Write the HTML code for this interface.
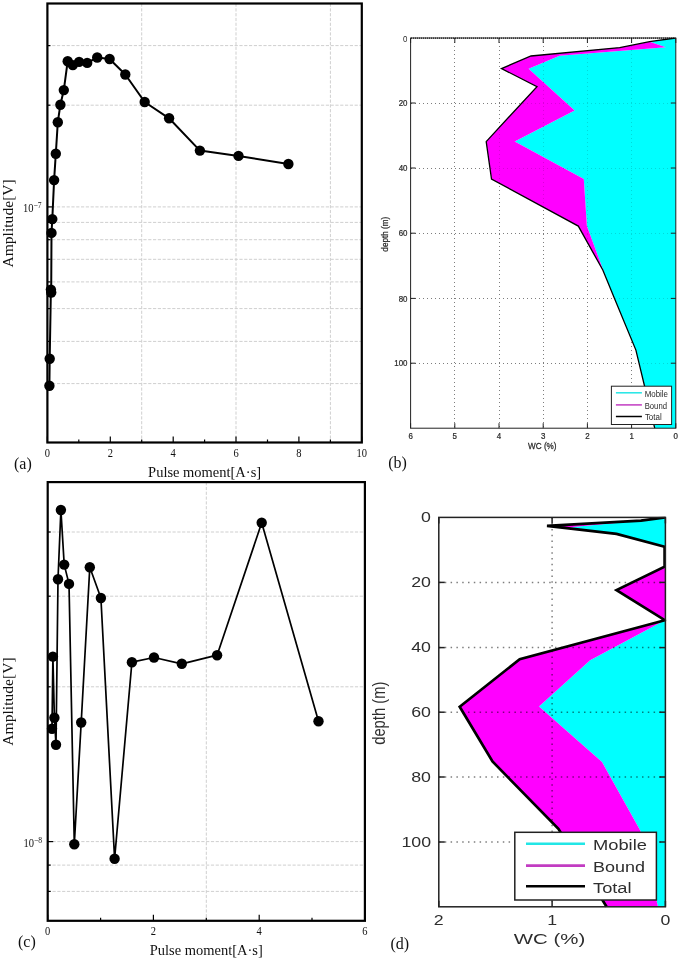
<!DOCTYPE html>
<html lang="en">
<head>
<meta charset="utf-8">
<title>Figure: amplitude vs pulse moment and water content profiles</title>
<style>
html,body{margin:0;padding:0;background:#fff;}
svg{display:block;will-change:transform;}
</style>
</head>
<body>
<svg width="685" height="960" viewBox="0 0 685 960">
<rect width="685" height="960" fill="#fff"/>
<g id="panel-a">
<g stroke="#cfcfcf" stroke-width="1" stroke-dasharray="3.2 1.6" fill="none">
<line x1="47.4" y1="45.6" x2="361.8" y2="45.6"/>
<line x1="47.4" y1="105.2" x2="361.8" y2="105.2"/>
<line x1="47.4" y1="206.9" x2="361.8" y2="206.9"/>
<line x1="47.4" y1="222.4" x2="361.8" y2="222.4"/>
<line x1="47.4" y1="239.7" x2="361.8" y2="239.7"/>
<line x1="47.4" y1="259.3" x2="361.8" y2="259.3"/>
<line x1="47.4" y1="281.9" x2="361.8" y2="281.9"/>
<line x1="47.4" y1="308.6" x2="361.8" y2="308.6"/>
<line x1="47.4" y1="341.4" x2="361.8" y2="341.4"/>
<line x1="47.4" y1="383.6" x2="361.8" y2="383.6"/>
<line x1="141.7" y1="3.5" x2="141.7" y2="442.5"/>
<line x1="236.0" y1="3.5" x2="236.0" y2="442.5"/>
<line x1="330.4" y1="3.5" x2="330.4" y2="442.5"/>
</g>
<g stroke="#000" stroke-width="1.2" fill="none">
<line x1="47.4" y1="442.5" x2="47.4" y2="436.5"/>
<line x1="78.8" y1="442.5" x2="78.8" y2="439.5"/>
<line x1="110.3" y1="442.5" x2="110.3" y2="436.5"/>
<line x1="141.7" y1="442.5" x2="141.7" y2="439.5"/>
<line x1="173.2" y1="442.5" x2="173.2" y2="436.5"/>
<line x1="204.6" y1="442.5" x2="204.6" y2="439.5"/>
<line x1="236.0" y1="442.5" x2="236.0" y2="436.5"/>
<line x1="267.5" y1="442.5" x2="267.5" y2="439.5"/>
<line x1="298.9" y1="442.5" x2="298.9" y2="436.5"/>
<line x1="330.4" y1="442.5" x2="330.4" y2="439.5"/>
<line x1="361.8" y1="442.5" x2="361.8" y2="436.5"/>
<line x1="47.4" y1="45.6" x2="50.4" y2="45.6"/>
<line x1="47.4" y1="105.2" x2="50.4" y2="105.2"/>
<line x1="47.4" y1="206.9" x2="52.9" y2="206.9"/>
<line x1="47.4" y1="222.4" x2="50.4" y2="222.4"/>
<line x1="47.4" y1="239.7" x2="50.4" y2="239.7"/>
<line x1="47.4" y1="259.3" x2="50.4" y2="259.3"/>
<line x1="47.4" y1="281.9" x2="50.4" y2="281.9"/>
<line x1="47.4" y1="308.6" x2="50.4" y2="308.6"/>
<line x1="47.4" y1="341.4" x2="50.4" y2="341.4"/>
<line x1="47.4" y1="383.6" x2="50.4" y2="383.6"/>
</g>
<polyline points="49.4,385.7 49.7,358.7 50.9,289.6 51.2,292.5 51.5,232.9 52.3,219.1 54.1,180.1 55.8,153.8 57.8,122.2 60.4,104.7 63.8,90.1 67.7,61.2 72.8,65.1 79.1,61.9 87.2,62.9 97.2,57.5 109.6,59.0 125.3,74.5 144.7,102.0 169.1,118.3 199.9,150.6 238.5,155.9 288.4,164.0" fill="none" stroke="#000" stroke-width="2.0" stroke-linejoin="round"/>
<g fill="#000">
<circle cx="49.4" cy="385.7" r="5.2"/>
<circle cx="49.7" cy="358.7" r="5.2"/>
<circle cx="50.9" cy="289.6" r="5.2"/>
<circle cx="51.2" cy="292.5" r="5.2"/>
<circle cx="51.5" cy="232.9" r="5.2"/>
<circle cx="52.3" cy="219.1" r="5.2"/>
<circle cx="54.1" cy="180.1" r="5.2"/>
<circle cx="55.8" cy="153.8" r="5.2"/>
<circle cx="57.8" cy="122.2" r="5.2"/>
<circle cx="60.4" cy="104.7" r="5.2"/>
<circle cx="63.8" cy="90.1" r="5.2"/>
<circle cx="67.7" cy="61.2" r="5.2"/>
<circle cx="72.8" cy="65.1" r="5.2"/>
<circle cx="79.1" cy="61.9" r="5.2"/>
<circle cx="87.2" cy="62.9" r="5.2"/>
<circle cx="97.2" cy="57.5" r="5.2"/>
<circle cx="109.6" cy="59.0" r="5.2"/>
<circle cx="125.3" cy="74.5" r="5.2"/>
<circle cx="144.7" cy="102.0" r="5.2"/>
<circle cx="169.1" cy="118.3" r="5.2"/>
<circle cx="199.9" cy="150.6" r="5.2"/>
<circle cx="238.5" cy="155.9" r="5.2"/>
<circle cx="288.4" cy="164.0" r="5.2"/>
</g>
<rect x="47.4" y="3.5" width="314.4" height="439.0" fill="none" stroke="#000" stroke-width="2.2"/>
<g font-family='"Liberation Serif", "DejaVu Serif", serif' font-size="12.8" fill="#111" text-anchor="middle">
<text transform="translate(47.4,456.6) scale(0.82,1)">0</text>
<text transform="translate(110.3,456.6) scale(0.82,1)">2</text>
<text transform="translate(173.2,456.6) scale(0.82,1)">4</text>
<text transform="translate(236.0,456.6) scale(0.82,1)">6</text>
<text transform="translate(298.9,456.6) scale(0.82,1)">8</text>
<text transform="translate(361.8,456.6) scale(0.82,1)">10</text>
</g>
<text transform="translate(23.0,212.0) scale(0.85,1)" font-family='"Liberation Serif", "DejaVu Serif", serif' font-size="12.4" fill="#111">10<tspan font-size="9" dy="-3.9">−7</tspan></text>
<text x="204.6" y="476.6" font-family='"Liberation Serif", "DejaVu Serif", serif' font-size="15.4" fill="#111" text-anchor="middle" textLength="113" lengthAdjust="spacingAndGlyphs">Pulse moment[A·s]</text>
<text transform="translate(12.9,223.4) rotate(-90)" font-family='"Liberation Serif", "DejaVu Serif", serif' font-size="15.6" fill="#111" text-anchor="middle">Amplitude[V]</text>
<text x="14" y="468.5" font-family='"Liberation Serif", "DejaVu Serif", serif' font-size="16" fill="#111">(a)</text>
</g>
<g id="panel-c">
<g stroke="#cfcfcf" stroke-width="1" stroke-dasharray="3.2 1.6" fill="none">
<line x1="47.7" y1="532.0" x2="364.9" y2="532.0"/>
<line x1="47.7" y1="596.2" x2="364.9" y2="596.2"/>
<line x1="47.7" y1="686.8" x2="364.9" y2="686.8"/>
<line x1="47.7" y1="841.6" x2="364.9" y2="841.6"/>
<line x1="47.7" y1="865.1" x2="364.9" y2="865.1"/>
<line x1="47.7" y1="891.4" x2="364.9" y2="891.4"/>
<line x1="206.3" y1="482.1" x2="206.3" y2="920.8"/>
</g>
<g stroke="#000" stroke-width="1.2" fill="none">
<line x1="47.7" y1="920.8" x2="47.7" y2="914.8"/>
<line x1="100.6" y1="920.8" x2="100.6" y2="917.8"/>
<line x1="153.4" y1="920.8" x2="153.4" y2="914.8"/>
<line x1="206.3" y1="920.8" x2="206.3" y2="917.8"/>
<line x1="259.2" y1="920.8" x2="259.2" y2="914.8"/>
<line x1="312.0" y1="920.8" x2="312.0" y2="917.8"/>
<line x1="364.9" y1="920.8" x2="364.9" y2="914.8"/>
<line x1="47.7" y1="532.0" x2="50.7" y2="532.0"/>
<line x1="47.7" y1="596.2" x2="50.7" y2="596.2"/>
<line x1="47.7" y1="686.8" x2="50.7" y2="686.8"/>
<line x1="47.7" y1="841.6" x2="53.2" y2="841.6"/>
<line x1="47.7" y1="865.1" x2="50.7" y2="865.1"/>
<line x1="47.7" y1="891.4" x2="50.7" y2="891.4"/>
</g>
<polyline points="52.0,728.7 52.9,656.6 54.4,717.7 56.0,744.7 58.0,579.2 60.9,510.0 64.2,564.6 69.0,583.9 74.3,844.2 81.2,722.5 89.8,567.3 100.9,598.0 114.6,858.8 131.9,662.2 154.0,657.5 181.8,663.8 217.1,655.2 261.7,522.8 318.5,721.3" fill="none" stroke="#000" stroke-width="1.7" stroke-linejoin="round"/>
<g fill="#000">
<circle cx="52.0" cy="728.7" r="5.2"/>
<circle cx="52.9" cy="656.6" r="5.2"/>
<circle cx="54.4" cy="717.7" r="5.2"/>
<circle cx="56.0" cy="744.7" r="5.2"/>
<circle cx="58.0" cy="579.2" r="5.2"/>
<circle cx="60.9" cy="510.0" r="5.2"/>
<circle cx="64.2" cy="564.6" r="5.2"/>
<circle cx="69.0" cy="583.9" r="5.2"/>
<circle cx="74.3" cy="844.2" r="5.2"/>
<circle cx="81.2" cy="722.5" r="5.2"/>
<circle cx="89.8" cy="567.3" r="5.2"/>
<circle cx="100.9" cy="598.0" r="5.2"/>
<circle cx="114.6" cy="858.8" r="5.2"/>
<circle cx="131.9" cy="662.2" r="5.2"/>
<circle cx="154.0" cy="657.5" r="5.2"/>
<circle cx="181.8" cy="663.8" r="5.2"/>
<circle cx="217.1" cy="655.2" r="5.2"/>
<circle cx="261.7" cy="522.8" r="5.2"/>
<circle cx="318.5" cy="721.3" r="5.2"/>
</g>
<rect x="47.7" y="482.1" width="317.2" height="438.7" fill="none" stroke="#000" stroke-width="2.2"/>
<g font-family='"Liberation Serif", "DejaVu Serif", serif' font-size="12.8" fill="#111" text-anchor="middle">
<text transform="translate(47.7,934.9) scale(0.82,1)">0</text>
<text transform="translate(153.4,934.9) scale(0.82,1)">2</text>
<text transform="translate(259.2,934.9) scale(0.82,1)">4</text>
<text transform="translate(364.9,934.9) scale(0.82,1)">6</text>
</g>
<text transform="translate(23.4,846.9) scale(0.85,1)" font-family='"Liberation Serif", "DejaVu Serif", serif' font-size="12.4" fill="#111">10<tspan font-size="9" dy="-3.9">−8</tspan></text>
<text x="206.3" y="955.0" font-family='"Liberation Serif", "DejaVu Serif", serif' font-size="15.4" fill="#111" text-anchor="middle" textLength="113" lengthAdjust="spacingAndGlyphs">Pulse moment[A·s]</text>
<text transform="translate(12.9,701.5) rotate(-90)" font-family='"Liberation Serif", "DejaVu Serif", serif' font-size="15.6" fill="#111" text-anchor="middle">Amplitude[V]</text>
<text x="18" y="947.4" font-family='"Liberation Serif", "DejaVu Serif", serif' font-size="16" fill="#111">(c)</text>
</g>
<g id="panel-b">
<g stroke="#000" stroke-width="1" stroke-dasharray="1 3" fill="none" opacity="0.42">
<line x1="411" y1="103.5" x2="675.8" y2="103.5"/>
<line x1="411" y1="168.5" x2="675.8" y2="168.5"/>
<line x1="411" y1="233.5" x2="675.8" y2="233.5"/>
<line x1="411" y1="298.5" x2="675.8" y2="298.5"/>
<line x1="411" y1="363.5" x2="675.8" y2="363.5"/>
<line x1="631.5" y1="38.0" x2="631.5" y2="428.2"/>
<line x1="587.5" y1="38.0" x2="587.5" y2="428.2"/>
<line x1="543.5" y1="38.0" x2="543.5" y2="428.2"/>
<line x1="499.5" y1="38.0" x2="499.5" y2="428.2"/>
<line x1="454.5" y1="38.0" x2="454.5" y2="428.2"/>
</g>
<clipPath id="clip-b"><rect x="410.10" y="37.50" width="266.20" height="391.20"/></clipPath>
<g clip-path="url(#clip-b)">
<polygon points="675.8,38.0 675.8,38.0 649.6,41.7 665.8,47.3 559.5,55.8 528.6,68.8 574.6,110.5 514.7,141.6 583.8,179.0 586.9,226.1 606.3,278.6 614.5,298.4 635.9,350.1 644.4,385.5 654.7,428.2 675.8,428.2" fill="#00ffff"/>
<polygon points="675.8,38.0 649.6,41.7 619.7,47.6 531.0,56.0 501.5,68.6 537.0,86.6 486.2,141.6 491.5,179.0 578.3,226.1 602.8,270.0 606.3,278.6 614.5,298.4 635.9,350.1 644.4,385.5 654.7,428.2 654.7,428.2 644.4,385.5 635.9,350.1 614.5,298.4 606.3,278.6 586.9,226.1 583.8,179.0 514.7,141.6 574.6,110.5 528.6,68.8 559.5,55.8 665.8,47.3 649.6,41.7 675.8,38.0" fill="#ff00ff"/>
<polyline points="675.8,38.0 649.6,41.7 619.7,47.6 531.0,56.0 501.5,68.6 537.0,86.6 486.2,141.6 491.5,179.0 578.3,226.1 602.8,270.0 606.3,278.6 614.5,298.4 635.9,350.1 644.4,385.5 654.7,428.2" fill="none" stroke="#000" stroke-width="1.3" stroke-linejoin="miter"/>
</g>
<g stroke="#000" stroke-width="1" stroke-dasharray="1 3" fill="none" opacity="0.14">
<line x1="411" y1="103.5" x2="675.8" y2="103.5"/>
<line x1="411" y1="168.5" x2="675.8" y2="168.5"/>
<line x1="411" y1="233.5" x2="675.8" y2="233.5"/>
<line x1="411" y1="298.5" x2="675.8" y2="298.5"/>
<line x1="411" y1="363.5" x2="675.8" y2="363.5"/>
<line x1="631.5" y1="38.0" x2="631.5" y2="428.2"/>
<line x1="587.5" y1="38.0" x2="587.5" y2="428.2"/>
<line x1="543.5" y1="38.0" x2="543.5" y2="428.2"/>
<line x1="499.5" y1="38.0" x2="499.5" y2="428.2"/>
<line x1="454.5" y1="38.0" x2="454.5" y2="428.2"/>
</g>
<g stroke="#222" stroke-width="1.0" fill="none">
<line x1="410.6" y1="103.0" x2="415.6" y2="103.0"/>
<line x1="675.8" y1="103.0" x2="670.8" y2="103.0"/>
<line x1="410.6" y1="168.0" x2="415.6" y2="168.0"/>
<line x1="675.8" y1="168.0" x2="670.8" y2="168.0"/>
<line x1="410.6" y1="233.2" x2="415.6" y2="233.2"/>
<line x1="675.8" y1="233.2" x2="670.8" y2="233.2"/>
<line x1="410.6" y1="298.4" x2="415.6" y2="298.4"/>
<line x1="675.8" y1="298.4" x2="670.8" y2="298.4"/>
<line x1="410.6" y1="363.2" x2="415.6" y2="363.2"/>
<line x1="675.8" y1="363.2" x2="670.8" y2="363.2"/>
<line x1="675.8" y1="428.2" x2="675.8" y2="423.2"/>
<line x1="675.8" y1="38.0" x2="675.8" y2="43.0"/>
<line x1="631.6" y1="428.2" x2="631.6" y2="423.2"/>
<line x1="631.6" y1="38.0" x2="631.6" y2="43.0"/>
<line x1="587.4" y1="428.2" x2="587.4" y2="423.2"/>
<line x1="587.4" y1="38.0" x2="587.4" y2="43.0"/>
<line x1="543.2" y1="428.2" x2="543.2" y2="423.2"/>
<line x1="543.2" y1="38.0" x2="543.2" y2="43.0"/>
<line x1="499.0" y1="428.2" x2="499.0" y2="423.2"/>
<line x1="499.0" y1="38.0" x2="499.0" y2="43.0"/>
<line x1="454.8" y1="428.2" x2="454.8" y2="423.2"/>
<line x1="454.8" y1="38.0" x2="454.8" y2="43.0"/>
<line x1="410.6" y1="428.2" x2="410.6" y2="423.2"/>
<line x1="410.6" y1="38.0" x2="410.6" y2="43.0"/>
</g>
<rect x="410.6" y="38.0" width="265.2" height="390.2" fill="none" stroke="#222" stroke-width="1.0"/>
<g font-family='"Liberation Sans", "DejaVu Sans", sans-serif' font-size="9.0" fill="#2a2a2a" stroke="#2a2a2a" stroke-width="0.25">
<text transform="translate(407.5,106.2) scale(0.88,1)" text-anchor="end">20</text>
<text transform="translate(407.5,171.2) scale(0.88,1)" text-anchor="end">40</text>
<text transform="translate(407.5,236.4) scale(0.88,1)" text-anchor="end">60</text>
<text transform="translate(407.5,301.6) scale(0.88,1)" text-anchor="end">80</text>
<text transform="translate(407.5,366.4) scale(0.88,1)" text-anchor="end">100</text>
<text transform="translate(675.8,439.0) scale(0.88,1)" text-anchor="middle">0</text>
<text transform="translate(631.6,439.0) scale(0.88,1)" text-anchor="middle">1</text>
<text transform="translate(587.4,439.0) scale(0.88,1)" text-anchor="middle">2</text>
<text transform="translate(543.2,439.0) scale(0.88,1)" text-anchor="middle">3</text>
<text transform="translate(499.0,439.0) scale(0.88,1)" text-anchor="middle">4</text>
<text transform="translate(454.8,439.0) scale(0.88,1)" text-anchor="middle">5</text>
<text transform="translate(410.6,439.0) scale(0.88,1)" text-anchor="middle">6</text>
<text transform="translate(542.3,449.2) scale(0.96,1)" font-size="8.5" text-anchor="middle">WC (%)</text>
<text transform="translate(388.0,234.2) scale(1.0,0.96) rotate(-90)" font-size="8.5" text-anchor="middle">depth (m)</text>
</g>
<rect x="611.4" y="386.2" width="60.2" height="38.3" fill="#fff" stroke="#222" stroke-width="1.0"/>
<line x1="615.9" y1="392.8" x2="641.9" y2="392.8" stroke="#22e6e6" stroke-width="1.5"/>
<text x="644.7" y="396.6" font-family='"Liberation Sans", "DejaVu Sans", sans-serif' font-size="8.3" fill="#2a2a2a" textLength="23.3" lengthAdjust="spacingAndGlyphs">Mobile</text>
<line x1="615.9" y1="404.9" x2="641.9" y2="404.9" stroke="#c23cc2" stroke-width="1.5"/>
<text x="644.7" y="408.5" font-family='"Liberation Sans", "DejaVu Sans", sans-serif' font-size="8.3" fill="#2a2a2a" textLength="22.3" lengthAdjust="spacingAndGlyphs">Bound</text>
<line x1="615.9" y1="416.5" x2="641.9" y2="416.5" stroke="#000" stroke-width="1.5"/>
<text x="644.9" y="420.3" font-family='"Liberation Sans", "DejaVu Sans", sans-serif' font-size="8.3" fill="#2a2a2a" textLength="16.8" lengthAdjust="spacingAndGlyphs">Total</text>
<text x="388.2" y="468.2" font-family='"Liberation Serif", "DejaVu Serif", serif' font-size="16" fill="#111">(b)</text>
</g>
<text transform="translate(407.5,41.5) scale(0.88,1)" font-family='"Liberation Sans", "DejaVu Sans", sans-serif' font-size="9" fill="#2a2a2a" text-anchor="end">0</text>
<line x1="411" y1="38.2" x2="675" y2="38.2" stroke="#000" stroke-width="1.2" stroke-dasharray="1 1" opacity="0.8"/>
<g id="panel-d">
<clipPath id="clip-d"><rect x="438.05" y="516.65" width="228.10" height="390.90"/></clipPath>
<g clip-path="url(#clip-d)">
<polygon points="665.4,517.4 665.4,517.4 641.0,520.7 569.5,527.2 616.5,533.9 664.6,546.8 665.4,566.6 665.4,590.1 664.8,620.2 590.1,660.3 539.0,706.4 602.0,762.0 640.4,830.7 658.0,906.8 665.4,906.8" fill="#00ffff"/>
<polygon points="665.4,517.4 641.0,520.7 547.0,525.8 616.5,533.9 664.6,546.8 664.6,566.6 616.5,590.1 664.8,620.2 519.7,659.2 459.7,706.8 492.5,761.5 558.4,828.9 606.6,906.8 658.0,906.8 640.4,830.7 602.0,762.0 539.0,706.4 590.1,660.3 664.8,620.2 665.4,590.1 665.4,566.6 664.6,546.8 616.5,533.9 569.5,527.2 641.0,520.7 665.4,517.4" fill="#ff00ff"/>
<polyline points="665.4,517.4 641.0,520.7 547.0,525.8 616.5,533.9 664.6,546.8 664.6,566.6 616.5,590.1 664.8,620.2 519.7,659.2 459.7,706.8 492.5,761.5 558.4,828.9 606.6,906.8" fill="none" stroke="#000" stroke-width="2.7" stroke-linejoin="miter"/>
</g>
<g stroke="#000" stroke-width="1.5" stroke-dasharray="1.5 4.3" fill="none" opacity="0.5">
<line x1="439" y1="582.4" x2="665.4" y2="582.4"/>
<line x1="439" y1="647.6" x2="665.4" y2="647.6"/>
<line x1="439" y1="712.2" x2="665.4" y2="712.2"/>
<line x1="439" y1="777.0" x2="665.4" y2="777.0"/>
<line x1="439" y1="842.0" x2="665.4" y2="842.0"/>
<line x1="552.1" y1="517.4" x2="552.1" y2="906.8"/>
</g>
<g stroke="#222" stroke-width="1.5" fill="none">
<line x1="438.8" y1="582.4" x2="444.8" y2="582.4"/>
<line x1="665.4" y1="582.4" x2="659.4" y2="582.4"/>
<line x1="438.8" y1="647.6" x2="444.8" y2="647.6"/>
<line x1="665.4" y1="647.6" x2="659.4" y2="647.6"/>
<line x1="438.8" y1="712.2" x2="444.8" y2="712.2"/>
<line x1="665.4" y1="712.2" x2="659.4" y2="712.2"/>
<line x1="438.8" y1="777.0" x2="444.8" y2="777.0"/>
<line x1="665.4" y1="777.0" x2="659.4" y2="777.0"/>
<line x1="438.8" y1="842.0" x2="444.8" y2="842.0"/>
<line x1="665.4" y1="842.0" x2="659.4" y2="842.0"/>
<line x1="665.4" y1="906.8" x2="665.4" y2="900.8"/>
<line x1="665.4" y1="517.4" x2="665.4" y2="523.4"/>
<line x1="552.1" y1="906.8" x2="552.1" y2="900.8"/>
<line x1="552.1" y1="517.4" x2="552.1" y2="523.4"/>
<line x1="438.8" y1="906.8" x2="438.8" y2="900.8"/>
<line x1="438.8" y1="517.4" x2="438.8" y2="523.4"/>
</g>
<rect x="438.8" y="517.4" width="226.6" height="389.4" fill="none" stroke="#222" stroke-width="1.5"/>
<g font-family='"Liberation Sans", "DejaVu Sans", sans-serif' font-size="14.8" fill="#2e2e2e" stroke="#2e2e2e" stroke-width="0">
<text transform="translate(431.0,587.1) scale(1.2,1)" text-anchor="end">20</text>
<text transform="translate(431.0,652.3) scale(1.2,1)" text-anchor="end">40</text>
<text transform="translate(431.0,716.9) scale(1.2,1)" text-anchor="end">60</text>
<text transform="translate(431.0,781.7) scale(1.2,1)" text-anchor="end">80</text>
<text transform="translate(431.0,846.7) scale(1.2,1)" text-anchor="end">100</text>
<text transform="translate(665.4,924.6) scale(1.2,1)" text-anchor="middle">0</text>
<text transform="translate(552.1,924.6) scale(1.2,1)" text-anchor="middle">1</text>
<text transform="translate(438.8,924.6) scale(1.2,1)" text-anchor="middle">2</text>
<text transform="translate(549.5,943.6) scale(1.38,1)" font-size="14.8" text-anchor="middle">WC (%)</text>
<text transform="translate(384.7,713.2) scale(1.27,1.0) rotate(-90)" font-size="14.8" text-anchor="middle">depth (m)</text>
</g>
<rect x="514.8" y="832.3" width="141.6" height="67.7" fill="#fff" stroke="#222" stroke-width="1.5"/>
<line x1="526.0" y1="843.7" x2="585.0" y2="843.7" stroke="#22e6e6" stroke-width="2.6"/>
<text x="593.0" y="850.3" font-family='"Liberation Sans", "DejaVu Sans", sans-serif' font-size="14.0" fill="#2e2e2e" textLength="53.9" lengthAdjust="spacingAndGlyphs">Mobile</text>
<line x1="526.0" y1="865.6" x2="585.0" y2="865.6" stroke="#c23cc2" stroke-width="2.6"/>
<text x="593.0" y="872.0" font-family='"Liberation Sans", "DejaVu Sans", sans-serif' font-size="14.0" fill="#2e2e2e" textLength="52.0" lengthAdjust="spacingAndGlyphs">Bound</text>
<line x1="526.0" y1="886.3" x2="585.0" y2="886.3" stroke="#000" stroke-width="2.6"/>
<text x="593.0" y="892.8" font-family='"Liberation Sans", "DejaVu Sans", sans-serif' font-size="14.0" fill="#2e2e2e" textLength="38.6" lengthAdjust="spacingAndGlyphs">Total</text>
<text x="390.4" y="949.2" font-family='"Liberation Serif", "DejaVu Serif", serif' font-size="16" fill="#111">(d)</text>
</g>
<text transform="translate(431.0,522.1) scale(1.2,1)" font-family='"Liberation Sans", "DejaVu Sans", sans-serif' font-size="14.8" fill="#2e2e2e" text-anchor="end">0</text>
</svg>
</body>
</html>
